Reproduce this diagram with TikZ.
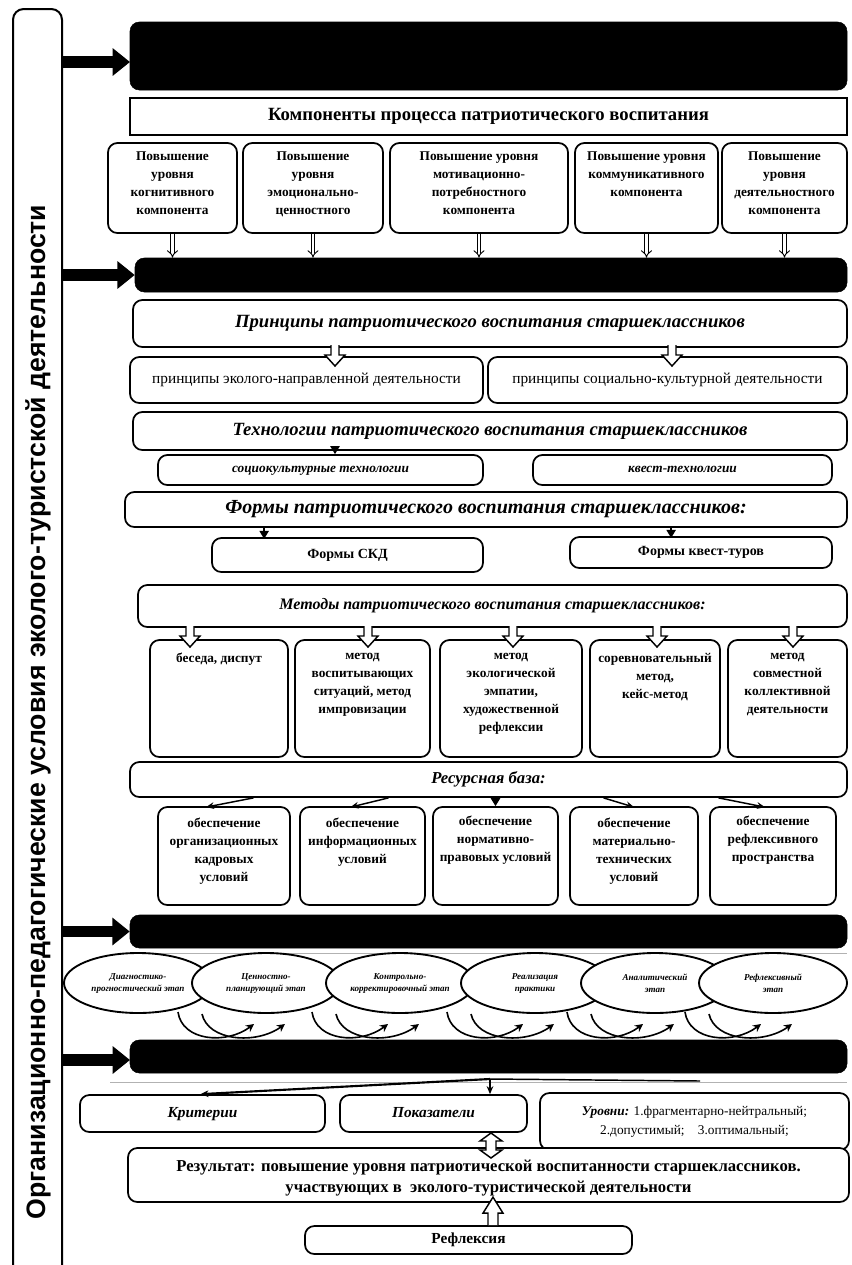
\documentclass[tikz,border=0pt]{standalone}
\usepackage{fontspec}
\setmainfont{Liberation Serif}
\setsansfont{Liberation Sans}
\usetikzlibrary{arrows.meta,calc,shapes.geometric}
\newcommand\mkrect[6]{\node[#1, minimum width={(#5-#3)*0.75pt}, minimum height={(#6-#4)*0.75pt}] (#2) at ({(#3+#5)/2},{(#4+#6)/2}) {};}
\tikzset{
 bar/.style={fill=black,draw=black,rounded corners=7pt,inner sep=0pt},
 rbox/.style={draw,line width=1.3pt,rounded corners=7pt,fill=white,inner sep=0pt},
 sbox/.style={draw,line width=1.3pt,fill=white,inner sep=0pt},
 ttl/.style={font=\fontsize{14}{16}\selectfont\bfseries\itshape},
 btxt/.style={font=\fontsize{10}{13.5}\selectfont\bfseries,align=center,inner sep=0pt},
 bigarrow/.style={line width=8.5pt,-{Triangle[length=13pt,width=20pt]}},
 dblarrow/.style={double,double distance=2.2pt,line width=0.7pt,-{Implies}},
 tri/.style={line width=1pt,-{Triangle[length=6pt,width=7pt]}},
 thinarr/.style={line width=1.1pt,-{Stealth[length=6pt,width=5pt]}},
 ell/.style={ellipse,draw,line width=1.4pt,fill=white,minimum width=111pt,minimum height=45pt,align=center,font=\fontsize{6.8}{9}\selectfont\bfseries\itshape,inner sep=0pt},
 curv/.style={line width=1.2pt,-{Stealth[length=6pt,width=6pt]}},
 hdown/.pic={\draw[line width=1.1pt,fill=white] (-4,0) -- (-4,10) -- (-10,10) -- (0,21) -- (10,10) -- (4,10) -- (4,0);},
 hup/.pic={\draw[line width=1.1pt,fill=white] (-5,0) -- (-5,-12) -- (-10,-12) -- (0,-28) -- (10,-12) -- (5,-12) -- (5,0);},
 hdbl/.pic={\draw[line width=1.1pt,fill=white] (-5,8) -- (-5,17) -- (-11,17) -- (0,25) -- (11,17) -- (5,17) -- (5,8) -- (11,8) -- (0,0) -- (-11,8) -- cycle;},
}
\begin{document}
\begin{tikzpicture}[x=0.75pt,y=-0.75pt]
\useasboundingbox (0,0) rectangle (851,1265);
\fill[white] (0,0) rectangle (851,1265);

% left vertical box
\draw[line width=1.5pt,rounded corners=8pt] (13,1285) -- (13,9) -- (62,9) -- (62,1285);
\coordinate (lbE) at (62,500);
\node[rotate=90,font=\sffamily\bfseries\fontsize{20}{22}\selectfont,inner sep=0pt] (lt) at (38,712) {Организационно-педагогические условия эколого-туристской деятельности};

% bars
\mkrect{bar}{bar1}{130}{22}{847}{90}
\mkrect{bar}{bar2}{135}{258}{847}{292}
\mkrect{bar}{bar3}{130}{915}{847}{948}
\mkrect{bar}{bar4}{130}{1040}{847}{1073}
\draw[bigarrow] (lbE |- 0,62) -- (130,62);
\draw[bigarrow] (lbE |- bar2.west) -- (bar2.west);
\draw[bigarrow] (lbE |- bar3.west) -- (bar3.west);
\draw[bigarrow] (lbE |- 0,1060) -- (130,1060);

% components
\mkrect{sbox}{ctitle}{130}{98}{847}{135}
\node[font=\fontsize{14}{16}\selectfont\bfseries] (ctitlet) at (ctitle.center) {Компоненты процесса патриотического воспитания};
\mkrect{rbox}{c1}{108}{143}{237}{233}
\mkrect{rbox}{c2}{243}{143}{383}{233}
\mkrect{rbox}{c3}{390}{143}{568}{233}
\mkrect{rbox}{c4}{575}{143}{718}{233}
\mkrect{rbox}{c5}{722}{143}{847}{233}
\node[btxt,anchor=north] (c1t) at ($(c1.north)+(0,9)$) {Повышение\\уровня\\когнитивного\\компонента};
\node[btxt,anchor=north] (c2t) at ($(c2.north)+(0,9)$) {Повышение\\уровня\\эмоционально-\\ценностного};
\node[btxt,anchor=north] (c3t) at ($(c3.north)+(0,9)$) {Повышение уровня\\мотивационно-\\потребностного\\компонента};
\node[btxt,anchor=north] (c4t) at ($(c4.north)+(0,9)$) {Повышение уровня\\коммуникативного\\компонента};
\node[btxt,anchor=north] (c5t) at ($(c5.north)+(0,9)$) {Повышение\\уровня\\деятельностного\\компонента};
\foreach \c in {c1,c2,c3,c4,c5}{\draw[dblarrow] (\c.south) -- (\c.south |- bar2.north);}

% principles
\mkrect{rbox}{princ}{133}{300}{847}{347}
\node[ttl] (princt) at (princ.center) {Принципы патриотического воспитания старшеклассников};
\mkrect{rbox}{pl}{130}{357}{483}{403}
\mkrect{rbox}{pr}{488}{357}{847}{403}
\node[font=\fontsize{11.5}{13}\selectfont] (plt) at (pl.center) {принципы эколого-направленной деятельности};
\node[font=\fontsize{11.5}{13}\selectfont] (prt) at (pr.center) {принципы социально-культурной деятельности};
\pic at (335,345) {hdown};
\pic at (672,345) {hdown};

% technologies
\mkrect{rbox}{tech}{133}{412}{847}{450}
\node[ttl] (techt) at (tech.center) {Технологии патриотического воспитания старшеклассников};
\mkrect{rbox}{tl}{158}{455}{483}{485}
\mkrect{rbox}{tr}{533}{455}{832}{485}
\node[font=\fontsize{10}{12}\selectfont\bfseries\itshape,text depth=0.3ex] (tlt) at (tl.center) {социокультурные технологии};
\node[font=\fontsize{10}{12}\selectfont\bfseries\itshape,text depth=0.3ex] (trt) at (tr.center) {квест-технологии};
\draw[tri] (tl.north -| 335,0) ++(0,-4) -- (tl.north -| 335,0);

% forms
\mkrect{rbox}{forms}{125}{492}{847}{527}
\node[font=\fontsize{15}{17}\selectfont\bfseries\itshape] (formst) at (forms.center) {Формы патриотического воспитания старшеклассников:};
\mkrect{rbox}{fl}{212}{538}{483}{572}
\mkrect{rbox}{fr}{570}{537}{832}{568}
\node[font=\fontsize{10.5}{12}\selectfont\bfseries] (flt) at (fl.center) {Формы СКД};
\node[font=\fontsize{10.5}{12}\selectfont\bfseries] (frt) at (fr.center) {Формы квест-туров};
\draw[tri] (forms.south -| fl.west) ++(53,0) -- ++(0,11);
\draw[tri] (forms.south -| fr.west) ++(102,0) -- ++(0,10);

% methods
\mkrect{rbox}{meth}{138}{585}{847}{627}
\node[font=\fontsize{12}{14}\selectfont\bfseries\itshape] (metht) at (meth.center) {Методы патриотического воспитания старшеклассников:};
\mkrect{rbox}{m1}{150}{640}{288}{757}
\mkrect{rbox}{m2}{295}{640}{430}{757}
\mkrect{rbox}{m3}{440}{640}{582}{757}
\mkrect{rbox}{m4}{590}{640}{720}{757}
\mkrect{rbox}{m5}{728}{640}{847}{757}
\node[btxt,anchor=north] (m1t) at ($(m1.north)+(0,14)$) {беседа, диспут};
\node[btxt,anchor=north] (m2t) at ($(m2.north)+(0,14)$) {метод\\воспитывающих\\ситуаций, метод\\импровизации};
\node[btxt,anchor=north] (m3t) at ($(m3.north)+(0,14)$) {метод\\экологической\\эмпатии,\\художественной\\рефлексии};
\node[btxt,anchor=north] (m4t) at ($(m4.north)+(0,14)$) {соревновательный\\метод,\\кейс-метод};
\node[btxt,anchor=north] (m5t) at ($(m5.north)+(0,14)$) {метод\\совместной\\коллективной\\деятельности};
\pic at (190,626) {hdown};
\pic at (368,626) {hdown};
\pic at (513,626) {hdown};
\pic at (657,626) {hdown};
\pic at (793,626) {hdown};

% resources
\mkrect{rbox}{res}{130}{762}{847}{797}
\node[font=\fontsize{12.5}{14}\selectfont\bfseries\itshape] (rest) at (res.center) {Ресурсная база:};
\mkrect{rbox}{r1}{158}{807}{290}{905}
\mkrect{rbox}{r2}{300}{807}{425}{905}
\mkrect{rbox}{r3}{433}{807}{558}{905}
\mkrect{rbox}{r4}{570}{807}{698}{905}
\mkrect{rbox}{r5}{710}{807}{836}{905}
\node[btxt,anchor=north] (r1t) at ($(r1.north)+(0,12)$) {обеспечение\\организационных\\кадровых\\условий};
\node[btxt,anchor=north] (r2t) at ($(r2.north)+(0,12)$) {обеспечение\\информационных\\условий};
\node[btxt,anchor=north] (r3t) at ($(r3.north)+(0,10)$) {обеспечение\\нормативно-\\правовых условий};
\node[btxt,anchor=north] (r4t) at ($(r4.north)+(0,12)$) {обеспечение\\материально-\\технических\\условий};
\node[btxt,anchor=north] (r5t) at ($(r5.north)+(0,10)$) {обеспечение\\рефлексивного\\пространства};
\draw[thinarr] ($(res.south)+(-235,0)$) -- ($(r1.north)+(-18,1)$);
\draw[thinarr] ($(res.south)+(-100,0)$) -- ($(r2.north)+(-12,1)$);
\draw[tri] (res.south -| r3.north) -- (r3.north);
\draw[thinarr] ($(res.south)+(115,0)$) -- ($(r4.north)+(0,1)$);
\draw[thinarr] ($(res.south)+(230,0)$) -- ($(r5.north)+(-8,1)$);

% stages
\draw[gray!60,line width=0.6pt] (140,953) -- (847,953);
\node[ell] (e1) at (138,983) {Диагностико-\\прогностический этап};
\node[ell] (e2) at (266,983) {Ценностно-\\планирующий этап};
\node[ell] (e3) at (400,983) {Контрольно-\\корректировочный этап};
\node[ell] (e4) at (535,983) {Реализация\\практики};
\node[ell] (e5) at (655,983) {Аналитический\\этап};
\node[ell] (e6) at (773,983) {Рефлексивный\\этап};
\foreach \e in {e2,e3,e4,e5,e6}{
 \draw[curv] ($(\e.center)+(-88,29)$) .. controls ($(\e.center)+(-84,58)$) and ($(\e.center)+(-40,62)$) .. ($(\e.center)+(-12,41)$);
 \draw[curv] ($(\e.center)+(-64,31)$) .. controls ($(\e.center)+(-58,58)$) and ($(\e.center)+(-10,62)$) .. ($(\e.center)+(19,41)$);
}

% criteria row
\draw[gray!60,line width=0.6pt] (110,1082) -- (847,1082);
\mkrect{rbox}{krit}{80}{1095}{325}{1132}
\mkrect{rbox}{pok}{340}{1095}{527}{1132}
\mkrect{rbox}{urov}{540}{1093}{849}{1150}
\node[font=\fontsize{11.5}{13}\selectfont\bfseries\itshape,text depth=0.3ex] (kritt) at (krit.center) {Критерии};
\node[font=\fontsize{11.5}{13}\selectfont\bfseries\itshape,text depth=0.3ex] (pokt) at (pok.center) {Показатели};
\node[font=\fontsize{10}{14}\selectfont,align=center] (urovt) at (urov.center) {\textbf{\textit{Уровни:}} 1.фрагментарно-нейтральный;\\2.допустимый;\quad 3.оптимальный;};
\coordinate (hub) at (490,1079);
\draw[thinarr,line width=1.6pt] (hub) -- ($(krit.north)+(-2,0)$);
\draw[thinarr] (hub) -- (hub |- pok.north);
\draw[line width=1.1pt] (hub) -- (700,1081);

% result
\mkrect{rbox}{result}{128}{1148}{849}{1202}
\pic at (491,1133) {hdbl};
\node[font=\fontsize{12.5}{16}\selectfont\bfseries,align=center] (resultt) at ($(result.center)+(0,3)$) {Результат: повышение уровня патриотической воспитанности старшеклассников.\\участвующих в\ \ эколого-туристической деятельности};
\mkrect{rbox}{refl}{305}{1226}{632}{1254}
\node[font=\fontsize{11.5}{13}\selectfont\bfseries] (reflt) at (refl.center) {Рефлексия};
\pic at (refl.north -| 493,0) {hup};
\end{tikzpicture}
\end{document}
